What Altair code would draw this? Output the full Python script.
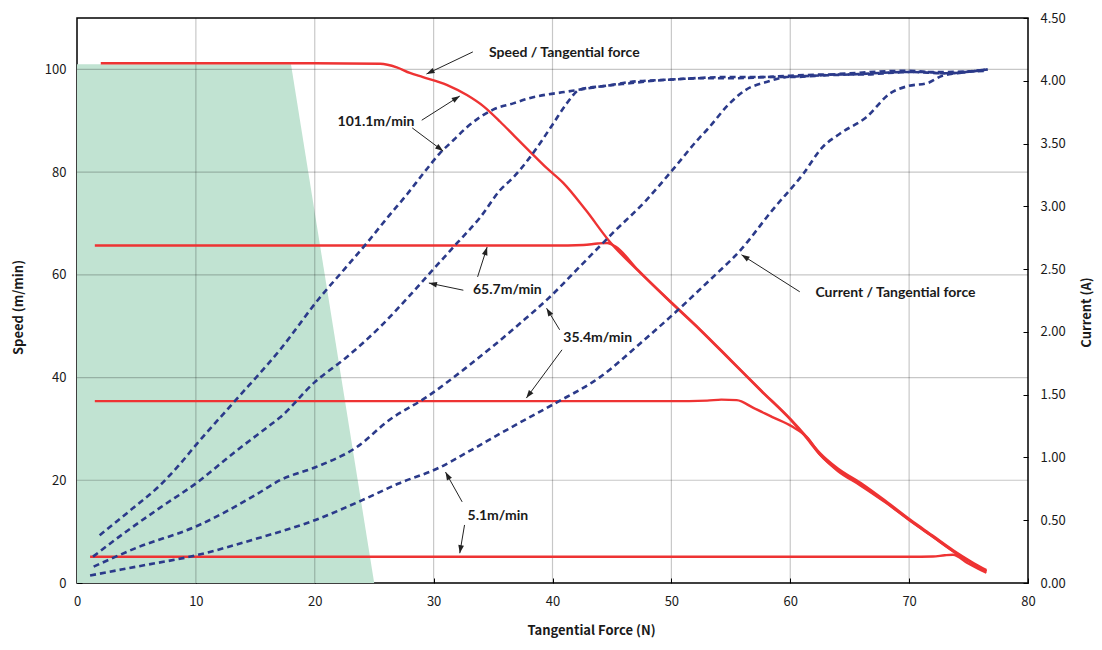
import math
import altair as alt
import pandas as pd

# ---------------- data ----------------
# Speed (m/min) against tangential force (N)  -- red solid curves
sp101_force = [2.0, 10, 20, 25.5, 26.9, 28.0, 29.1, 31.1, 32.8, 34.2, 35.6, 36.8, 38.1, 39.5, 40.9, 42.8,
               44.8, 47.2, 49.6, 52.4, 55.0, 57.5, 60.1, 61.2, 62.5, 64.0, 65.9, 68.0, 70.1, 72.0, 73.7, 75.2, 76.5]
sp101_speed = [101.2, 101.2, 101.2, 101.1, 100.4, 99.3, 98.5, 97.0, 95.0, 92.8, 89.8, 87.0, 84.0, 80.8, 77.9, 72.6,
               66.5, 60.8, 55.5, 49.4, 43.4, 37.6, 31.7, 28.9, 25.3, 22.3, 19.5, 16.0, 12.3, 9.2, 6.4, 4.2, 2.5]

sp65_force = [1.5, 10, 20, 30, 40, 42.6, 43.8, 44.6, 45.3, 47.2, 49.6, 52.4, 55.0, 57.5, 60.1, 61.2, 62.5,
              64.0, 65.9, 68.0, 70.1, 72.0, 73.7, 75.2, 76.5]
sp65_speed = [65.7, 65.7, 65.7, 65.7, 65.7, 65.8, 66.1, 66.2, 65.5, 60.9, 55.4, 49.3, 43.3, 37.5, 31.6, 28.7, 25.0,
              22.0, 19.2, 15.8, 12.1, 9.0, 6.2, 4.0, 2.3]

sp35_force = [1.5, 10, 20, 30, 40, 50, 53.0, 54.2, 55.5, 56.9, 58.5, 60.2, 61.4, 62.5, 64.0, 65.9, 68.0,
              70.1, 72.0, 73.7, 75.2, 76.5]
sp35_speed = [35.4, 35.4, 35.4, 35.4, 35.4, 35.4, 35.5, 35.7, 35.6, 34.1, 32.3, 30.4, 28.4, 25.0, 21.8, 19.0, 15.7,
              12.1, 9.0, 6.2, 4.0, 2.3]

sp5_force = [1.1, 10, 20, 30, 40, 50, 60, 70, 72.0, 73.0, 73.7, 74.9, 75.8, 76.5]
sp5_speed = [5.1, 5.1, 5.1, 5.1, 5.1, 5.1, 5.1, 5.1, 5.15, 5.4, 5.5, 3.9, 2.8, 2.0]

# Current (A) against tangential force (N)  -- blue dashed curves
cu101_force = [1.9, 4.5, 7.0, 8.5, 10.1, 13.1, 17.1, 20.4, 22.5, 24.4, 26.2, 27.8, 29.2, 30.5, 31.7, 32.8, 33.9, 35.0,
               36.7, 38.0, 39.5, 41.0, 42.3, 44.5, 46.5, 48.5, 50.1, 52.4, 55, 58, 60, 63, 66, 70, 73, 76.6]
cu101_current = [0.38, 0.58, 0.78, 0.93, 1.11, 1.43, 1.86, 2.27, 2.50, 2.71, 2.92, 3.10, 3.27, 3.42, 3.53, 3.63, 3.71,
                 3.77, 3.82, 3.86, 3.89, 3.91, 3.93, 3.96, 3.98, 4.00, 4.01, 4.02, 4.02, 4.03, 4.04, 4.05, 4.05, 4.07,
                 4.07, 4.08]

cu65_force = [1.35, 4.0, 7.0, 10.1, 13.1, 16.0, 17.1, 20.0, 22.7, 25.5, 27.8, 29.7, 32.0, 33.9, 35.6, 36.7, 38.1,
              40.0, 41.2, 42.3, 44.5, 46.5, 50, 55, 60, 65, 70, 73, 76.6]
cu65_current = [0.21, 0.40, 0.60, 0.80, 1.03, 1.24, 1.32, 1.60, 1.80, 2.04, 2.27, 2.47, 2.71, 2.91, 3.13, 3.23, 3.39,
                3.65, 3.82, 3.93, 3.96, 3.99, 4.01, 4.03, 4.03, 4.06, 4.08, 4.06, 4.09]

cu35_force = [1.4, 5, 10, 15, 17.1, 20, 23.5, 26.3, 29.4, 32.8, 37.3, 39.8, 42.3, 45.1, 47.9, 50.1, 52.4, 53.0,
              54.9, 56.3, 58.0, 59.7, 62, 65, 70, 73, 76.6]
cu35_current = [0.13, 0.28, 0.45, 0.70, 0.82, 0.92, 1.08, 1.30, 1.48, 1.72, 2.07, 2.28, 2.52, 2.79, 3.05, 3.29, 3.55,
                3.61, 3.82, 3.93, 3.99, 4.03, 4.04, 4.05, 4.07, 4.06, 4.09]

cu5_force = [1.1, 5, 10, 15, 20, 24, 27, 30.5, 33, 35.6, 37.3, 40.2, 44, 47.4, 50.5, 53.2, 55.8, 58.5, 61.1, 62.7,
             64.2, 66.4, 68.4, 70, 71.5, 72.8, 74, 76.6]
cu5_current = [0.06, 0.13, 0.22, 0.35, 0.50, 0.66, 0.79, 0.92, 1.05, 1.19, 1.28, 1.43, 1.64, 1.91, 2.17, 2.41, 2.65,
               2.97, 3.26, 3.47, 3.58, 3.71, 3.90, 3.96, 3.98, 4.04, 4.06, 4.09]

# shaded zone
zone_force = [0, 18, 25]
zone_speed = [101, 101, 0]

# ticks / grid
x_ticks = [0, 10, 20, 30, 40, 50, 60, 70, 80]
speed_ticks = [0, 20, 40, 60, 80, 100]
current_ticks = [0, 0.5, 1.0, 1.5, 2.0, 2.5, 3.0, 3.5, 4.0, 4.5]
x_grid = [10, 20, 30, 40, 50, 60, 70]
speed_grid = [20, 40, 60, 80, 100]

# annotations (force, speed coordinates)
label_text = ["Speed / Tangential force", "101.1m/min", "65.7m/min", "35.4m/min", "5.1m/min",
              "Current / Tangential force"]
label_force = [41.0, 25.15, 36.2, 43.8, 35.4, 68.85]
label_speed = [103.2, 89.8, 57.0, 47.7, 13.0, 56.5]

arrow_x1 = [33.3, 29.0, 28.2, 32.5, 33.7, 40.6, 40.8, 32.4, 32.6, 60.8]
arrow_y1 = [103.4, 90.1, 88.6, 57.0, 59.6, 49.3, 45.4, 15.8, 11.3, 56.7]
arrow_x2 = [29.4, 32.2, 30.8, 29.6, 34.5, 39.5, 37.8, 31.0, 32.2, 55.9]
arrow_y2 = [99.1, 94.8, 84.1, 58.4, 65.4, 53.5, 36.0, 21.6, 5.8, 63.9]

# ---------------- build tables ----------------
W, H = 951, 565
X_DOM, S_DOM, C_DOM = [0, 80], [0, 110], [0, 4.5]

def series(name, xs, ys, col):
    return pd.DataFrame({"force": xs, col: ys, "series": name})

speed_df = pd.concat([
    series("101.1", sp101_force, sp101_speed, "speed"),
    series("65.7", sp65_force, sp65_speed, "speed"),
    series("35.4", sp35_force, sp35_speed, "speed"),
    series("5.1", sp5_force, sp5_speed, "speed"),
])
cur_df = pd.concat([
    series("101.1", cu101_force, cu101_current, "current"),
    series("65.7", cu65_force, cu65_current, "current"),
    series("35.4", cu35_force, cu35_current, "current"),
    series("5.1", cu5_force, cu5_current, "current"),
])
zone_df = pd.DataFrame({"force": zone_force, "speed": zone_speed})
xgrid_df = pd.DataFrame({"v": x_grid})
sgrid_df = pd.DataFrame({"v": speed_grid})
label_df = pd.DataFrame({"force": label_force, "speed": label_speed, "text": label_text})

angles = []
for a, b, c, d in zip(arrow_x1, arrow_y1, arrow_x2, arrow_y2):
    dx = (c - a) * W / (X_DOM[1] - X_DOM[0])
    dy = -(d - b) * H / (S_DOM[1] - S_DOM[0])
    angles.append(math.degrees(math.atan2(dx, -dy)) % 360)
arrow_df = pd.DataFrame({"x1": arrow_x1, "y1": arrow_y1, "x2": arrow_x2, "y2": arrow_y2, "ang": angles})

# ---------------- chart ----------------
def xs():
    return alt.Scale(domain=X_DOM, nice=False, zero=False)

def ss():
    return alt.Scale(domain=S_DOM, nice=False, zero=False)

# identical x axis on every layer so that the shared axis merges cleanly
x_axis = alt.Axis(values=x_ticks, title="Tangential Force (N)", orient="bottom", grid=False, domain=False,
                  offset=-5, tickSize=5, labelPadding=12, labelFlush=False, titleX=514, titleY=52,
                  titleAlign="center", titleBaseline="middle")
s_axis = alt.Axis(values=speed_ticks, title="Speed (m/min)", orient="left", grid=False, domain=False,
                  offset=-5, tickSize=5, labelPadding=11, titleX=-64, titleY=289, titleAngle=270,
                  titleAlign="center", titleBaseline="middle")
c_axis = alt.Axis(values=current_ticks, format=".2f", title="Current (A)", orient="right", grid=False,
                  domain=False, offset=-5, tickSize=5, labelPadding=12, titleX=63, titleY=294,
                  titleAngle=270, titleAlign="center", titleBaseline="middle")

green = alt.Chart(zone_df).mark_area(color="#c1e3d2").encode(
    x=alt.X("force:Q", scale=xs(), axis=x_axis),
    y=alt.Y("speed:Q", scale=ss(), axis=s_axis),
)
vgrid = alt.Chart(xgrid_df).mark_rule(color="black", opacity=0.22, strokeWidth=1.2).encode(
    x=alt.X("v:Q", scale=xs(), axis=x_axis)
)
hgrid = alt.Chart(sgrid_df).mark_rule(color="black", opacity=0.22, strokeWidth=1.2).encode(
    y=alt.Y("v:Q", scale=ss(), axis=None)
)
red = alt.Chart(speed_df).mark_line(color="#ee3333", strokeWidth=2.4, interpolate="monotone").encode(
    x=alt.X("force:Q", scale=xs(), axis=x_axis),
    y=alt.Y("speed:Q", scale=ss(), axis=None),
    detail="series:N",
)
arrow_lines = alt.Chart(arrow_df).mark_rule(color="#222222", strokeWidth=1).encode(
    x=alt.X("x1:Q", scale=xs(), axis=x_axis),
    y=alt.Y("y1:Q", scale=ss(), axis=None),
    x2="x2:Q",
    y2="y2:Q",
)
arrow_heads = alt.Chart(arrow_df).mark_point(
    shape="M0,0L-0.6,1.7L0.6,1.7Z", filled=True, size=90, color="#222222", opacity=1, strokeWidth=0
).encode(
    x=alt.X("x2:Q", scale=xs(), axis=x_axis),
    y=alt.Y("y2:Q", scale=ss(), axis=None),
    angle=alt.Angle("ang:Q", scale=None),
)
labels = alt.Chart(label_df).mark_text(font="Lato", fontSize=14, fontWeight="bold", color="#1a1a1a").encode(
    x=alt.X("force:Q", scale=xs(), axis=x_axis),
    y=alt.Y("speed:Q", scale=ss(), axis=None),
    text="text:N",
)
blue = alt.Chart(cur_df).mark_line(color="#2b3a8a", strokeWidth=2.6, strokeDash=[6, 4],
                                   interpolate="monotone").encode(
    x=alt.X("force:Q", scale=xs(), axis=x_axis),
    y=alt.Y("current:Q", scale=alt.Scale(domain=C_DOM, nice=False, zero=False), axis=c_axis),
    detail="series:N",
)

chart = alt.layer(green, vgrid, hgrid, red, blue, arrow_lines, arrow_heads, labels).resolve_scale(
    y="independent"
).properties(
    width=W, height=H,
    autosize=alt.AutoSizeParams(type="none"),
    padding={"left": 69, "top": 10, "right": 66, "bottom": 56},
).configure_view(stroke="black", strokeWidth=1.5).configure_axis(
    labelFont="Noto Sans CJK JP", labelFontSize=13, labelColor="#1a1a1a",
    titleFont="Noto Sans CJK JP", titleFontSize=13, titleFontWeight="bold", titleColor="#1a1a1a",
    tickColor="black", tickWidth=1,
)

chart.save("out.html", embed_options={"renderer": "svg", "actions": False})
